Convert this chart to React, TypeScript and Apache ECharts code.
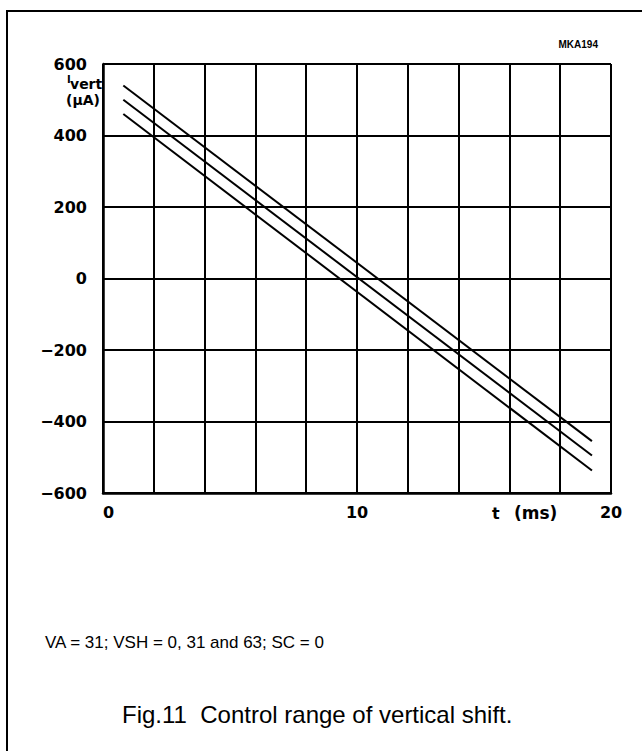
import React, { useEffect, useRef } from "react";
import * as echarts from "echarts";

const xTicks = [0, 10, 20];
const yTickLabels: Record<number, string> = {
  600: "600",
  400: "400",
  200: "200",
  0: "0",
  [-200]: "\u2212200",
  [-400]: "\u2212400",
  [-600]: "\u2212600",
};
const vshHigh: [number, number][] = [
  [0.8, 540],
  [19.25, -455],
];
const vshMid: [number, number][] = [
  [0.8, 500],
  [19.25, -495],
];
const vshLow: [number, number][] = [
  [0.8, 460],
  [19.25, -537],
];

const labelFont = "'DejaVu Sans', sans-serif";

export default function App() {
  const ref = useRef<HTMLDivElement>(null);
  useEffect(() => {
    if (!ref.current) return;
    const chart = echarts.init(ref.current, null, { renderer: "svg" });
    const lineStyle = { color: "#000", width: 2 };
    const mkSeries = (name: string, data: [number, number][]) => ({
      name,
      type: "line",
      data,
      symbol: "none",
      lineStyle,
      silent: true,
    });
    chart.setOption({
      animation: false,
      backgroundColor: "#fff",
      grid: { left: 103, top: 64, width: 508, height: 429 },
      xAxis: {
        type: "value",
        min: 0,
        max: 20,
        interval: 2,
        axisLine: {
          show: true,
          onZero: false,
          lineStyle: { color: "#000", width: 2.5 },
        },
        axisTick: { show: false },
        splitLine: { show: true, lineStyle: { color: "#000", width: 2 } },
        axisLabel: {
          margin: 11,
          color: "#000",
          fontFamily: labelFont,
          fontWeight: "bold",
          fontSize: 16,
          alignMinLabel: "left",
          formatter: (v: number) => (xTicks.includes(v) ? String(v) : ""),
        },
      },
      yAxis: {
        type: "value",
        min: -600,
        max: 600,
        interval: 200,
        axisLine: {
          show: true,
          onZero: false,
          lineStyle: { color: "#000", width: 2.5 },
        },
        axisTick: { show: false },
        splitLine: { show: true, lineStyle: { color: "#000", width: 2 } },
        axisLabel: {
          margin: 16,
          color: "#000",
          fontFamily: labelFont,
          fontWeight: "bold",
          fontSize: 16,
          formatter: (v: number) => yTickLabels[v] ?? "",
        },
      },
      series: [
        mkSeries("VSH = 63", vshHigh),
        mkSeries("VSH = 31", vshMid),
        mkSeries("VSH = 0", vshLow),
      ],
      graphic: [
        {
          type: "rect",
          shape: { x: 7, y: 11, width: 700, height: 800 },
          style: { fill: "none", stroke: "#000", lineWidth: 2 },
          silent: true,
        },
        {
          type: "text",
          x: 598,
          y: 44,
          style: {
            text: "MKA194",
            font: "bold 10px 'Liberation Sans', sans-serif",
            fill: "#000",
            align: "right",
            verticalAlign: "middle",
          },
        },
        {
          type: "text",
          x: 67,
          y: 79,
          style: {
            text: "I",
            font: "bold 10px " + labelFont,
            fill: "#000",
            align: "left",
            verticalAlign: "middle",
          },
        },
        {
          type: "text",
          x: 70,
          y: 84,
          style: {
            text: "vert",
            font: "bold 14px " + labelFont,
            fill: "#000",
            align: "left",
            verticalAlign: "middle",
          },
        },
        {
          type: "text",
          x: 66,
          y: 100,
          style: {
            text: "(\u00b5A)",
            font: "bold 14px " + labelFont,
            fill: "#000",
            align: "left",
            verticalAlign: "middle",
          },
        },
        {
          type: "text",
          x: 492,
          y: 513,
          style: {
            text: "t",
            font: "bold 16px " + labelFont,
            fill: "#000",
            align: "left",
            verticalAlign: "middle",
          },
        },
        {
          type: "text",
          x: 514,
          y: 513,
          style: {
            text: "(ms)",
            font: "bold 17px " + labelFont,
            fill: "#000",
            align: "left",
            verticalAlign: "middle",
          },
        },
        {
          type: "text",
          x: 45,
          y: 642,
          style: {
            text: "VA = 31; VSH = 0, 31 and 63; SC = 0",
            font: "17px 'Liberation Sans', Arial, sans-serif",
            fill: "#000",
            align: "left",
            verticalAlign: "middle",
          },
        },
        {
          type: "text",
          x: 122,
          y: 714,
          style: {
            text: "Fig.11  Control range of vertical shift.",
            font: "24px 'Liberation Sans', Arial, sans-serif",
            fill: "#000",
            align: "left",
            verticalAlign: "middle",
          },
        },
      ],
    });
    return () => chart.dispose();
  }, []);
  return (
    <div
      ref={ref}
      style={{ position: "fixed", left: 0, top: 0, width: 642, height: 751 }}
    />
  );
}
